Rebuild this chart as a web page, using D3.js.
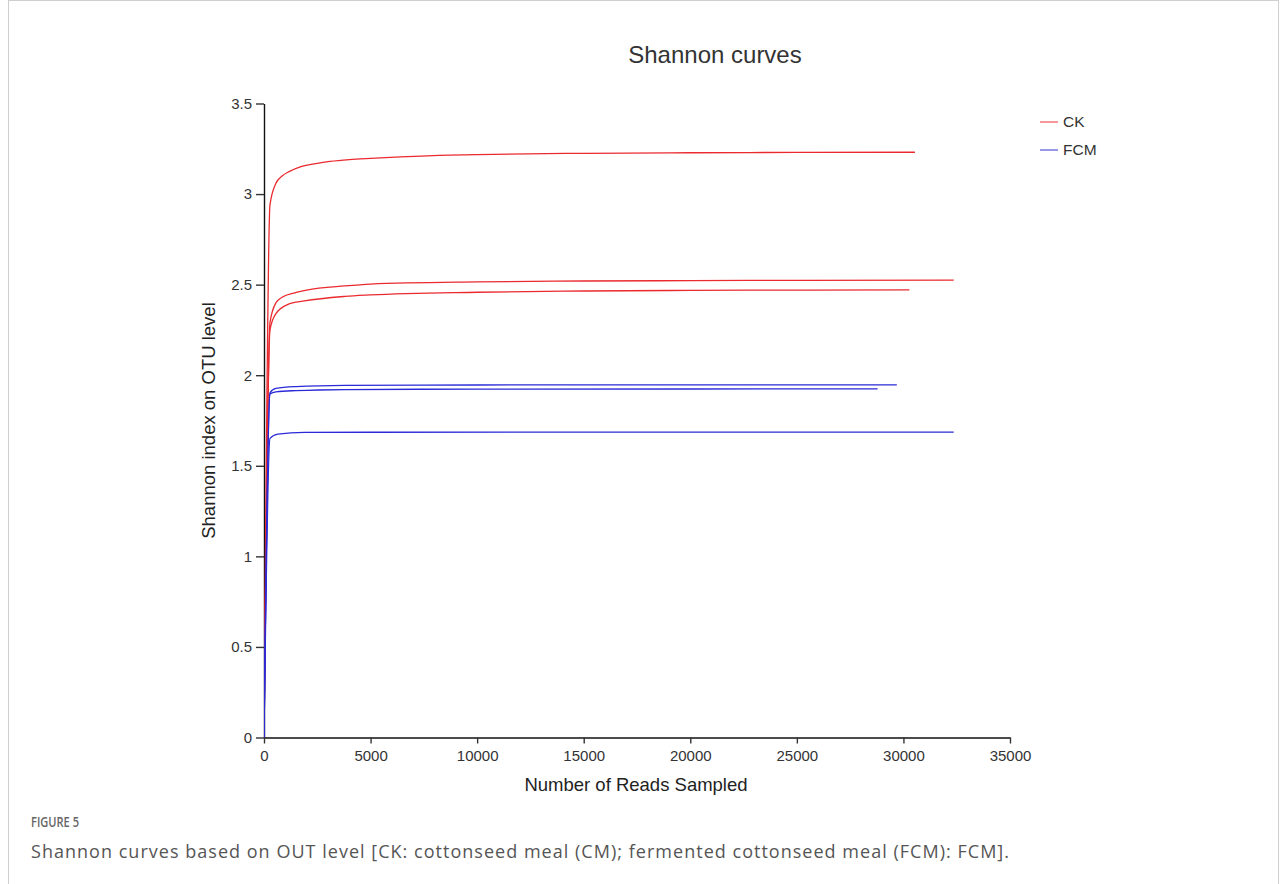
<!DOCTYPE html>
<html>
<head>
<meta charset="utf-8">
<script src="https://cdn.jsdelivr.net/npm/d3@7"></script>
<style>
  html, body { margin: 0; padding: 0; background: #fff; }
  svg { display: block; }
</style>
</head>
<body>
<svg id="chart" width="1281" height="884"></svg>
<script>
// Rarefaction samples: reads sampled and Shannon index per sample
const ckReads1 = [1, 280, 560, 850, 1200, 1700, 2500, 3100, 4000, 5000, 6400, 8700, 10000, 15000, 20000, 25000, 30540];
const ckShannon1 = [0, 2.94, 3.06, 3.10, 3.125, 3.15, 3.17, 3.18, 3.19, 3.197, 3.205, 3.215, 3.218, 3.225, 3.228, 3.23, 3.231];

const ckReads2 = [1, 280, 560, 850, 1450, 2000, 3800, 5000, 10000, 15000, 20000, 25000, 32360];
const ckShannon2 = [0, 2.29, 2.40, 2.43, 2.455, 2.47, 2.493, 2.503, 2.515, 2.52, 2.522, 2.524, 2.525];

const ckReads3 = [1, 280, 560, 1100, 1900, 3800, 5000, 10000, 15000, 20000, 25000, 30280];
const ckShannon3 = [0, 2.25, 2.34, 2.39, 2.41, 2.435, 2.443, 2.458, 2.465, 2.468, 2.47, 2.471];

const fcmReads1 = [1, 280, 560, 1500, 3800, 10000, 20000, 29690];
const fcmShannon1 = [0, 1.903, 1.927, 1.937, 1.944, 1.946, 1.947, 1.947];

const fcmReads2 = [1, 280, 560, 1500, 3800, 10000, 20000, 28790];
const fcmShannon2 = [0, 1.896, 1.908, 1.915, 1.921, 1.923, 1.924, 1.925];

const fcmReads3 = [1, 280, 650, 1900, 5000, 15000, 32360];
const fcmShannon3 = [0, 1.651, 1.675, 1.684, 1.685, 1.686, 1.686];

const groups = ["CK", "FCM"];
const groupColors = ["#ea2a2f", "#2a2ad8"];
const xTicks = [0, 5000, 10000, 15000, 20000, 25000, 30000, 35000];
const yTicks = [0, 0.5, 1, 1.5, 2, 2.5, 3, 3.5];

const curves = [
  { group: "CK", reads: ckReads1, values: ckShannon1 },
  { group: "CK", reads: ckReads2, values: ckShannon2 },
  { group: "CK", reads: ckReads3, values: ckShannon3 },
  { group: "FCM", reads: fcmReads1, values: fcmShannon1 },
  { group: "FCM", reads: fcmReads2, values: fcmShannon2 },
  { group: "FCM", reads: fcmReads3, values: fcmShannon3 }
];

const svg = d3.select("#chart");
const font = "'Liberation Sans', Arial, sans-serif";

// Page frame
svg.append("rect")
  .attr("x", 8.5).attr("y", 0.5)
  .attr("width", 1270).attr("height", 950)
  .attr("fill", "none").attr("stroke", "#cfcfcf").attr("stroke-width", 1);

const plot = { left: 264, right: 1010, top: 103.5, bottom: 737.5 };

const x = d3.scaleLinear().domain([0, 35000]).range([plot.left, plot.right]);
const y = d3.scaleLinear().domain([0, 3.5]).range([plot.bottom, plot.top]);
const color = d3.scaleOrdinal().domain(groups).range(groupColors);

// Title
svg.append("text")
  .attr("x", 715).attr("y", 63)
  .attr("text-anchor", "middle")
  .attr("font-family", font).attr("font-size", 24)
  .attr("fill", "#333")
  .text("Shannon curves");

// Axes
const xAxis = svg.append("g")
  .attr("transform", `translate(0,${plot.bottom})`)
  .call(d3.axisBottom(x).tickValues(xTicks).tickFormat(d3.format("d")).tickSize(6).tickSizeOuter(0));
const yAxis = svg.append("g")
  .attr("transform", `translate(${plot.left},0)`)
  .call(d3.axisLeft(y).tickValues(yTicks).tickFormat(d => String(d)).tickSize(8).tickSizeOuter(0));

[xAxis, yAxis].forEach(g => {
  g.select(".domain").attr("stroke", "#111").attr("stroke-width", 1.4);
  g.selectAll(".tick line").attr("stroke", "#333").attr("stroke-width", 1.4);
  g.selectAll(".tick text")
    .attr("font-family", font).attr("font-size", 15).attr("fill", "#333");
});
xAxis.selectAll(".tick text").attr("dy", "0.95em");
yAxis.selectAll(".tick text").attr("x", -12);

// Axis titles
svg.append("text")
  .attr("x", 636).attr("y", 791)
  .attr("text-anchor", "middle")
  .attr("font-family", font).attr("font-size", 18.5).attr("fill", "#222")
  .text("Number of Reads Sampled");

svg.append("text")
  .attr("transform", `translate(215,${(plot.top + plot.bottom) / 2 + 0}) rotate(-90)`)
  .attr("text-anchor", "middle")
  .attr("font-family", font).attr("font-size", 18.5).attr("fill", "#222")
  .text("Shannon index on OTU level");

// Curves
const line = d3.line()
  .curve(d3.curveMonotoneX)
  .x(d => x(d[0]))
  .y(d => y(d[1]));

const clip = svg.append("defs").append("clipPath").attr("id", "plotClip");
clip.append("rect").attr("x", plot.left).attr("y", plot.top - 5)
  .attr("width", plot.right - plot.left + 5).attr("height", plot.bottom - plot.top + 5);

svg.append("g").attr("clip-path", "url(#plotClip)")
  .selectAll("path")
  .data(curves)
  .join("path")
  .attr("d", c => line(c.reads.map((r, i) => [r, c.values[i]])))
  .attr("fill", "none")
  .attr("stroke", c => color(c.group))
  .attr("stroke-width", 1.3)
  .attr("stroke-linejoin", "round");

// Legend
const legend = svg.append("g").attr("transform", "translate(1040,122)");
const item = legend.selectAll("g")
  .data(groups)
  .join("g")
  .attr("transform", (d, i) => `translate(0,${i * 28})`);
item.append("line")
  .attr("x1", 0).attr("x2", 18).attr("y1", 0).attr("y2", 0)
  .attr("stroke", d => color(d)).attr("stroke-width", 1.2).attr("opacity", 0.8);
item.append("text")
  .attr("x", 23).attr("y", 0).attr("dy", "0.35em")
  .attr("font-family", font).attr("font-size", 15.5).attr("fill", "#333")
  .text(d => d);

// Figure caption
svg.append("text")
  .attr("x", 31).attr("y", 827)
  .attr("font-family", "'Open Sans', sans-serif").attr("font-size", 13.5)
  .attr("font-weight", 600).attr("fill", "#666")
  .attr("textLength", 48).attr("lengthAdjust", "spacingAndGlyphs")
  .text("FIGURE 5");

svg.append("text")
  .attr("x", 31).attr("y", 858)
  .attr("font-family", "'Open Sans', sans-serif").attr("font-size", 18)
  .attr("fill", "#555")
  .attr("textLength", 978).attr("lengthAdjust", "spacing")
  .text("Shannon curves based on OUT level [CK: cottonseed meal (CM); fermented cottonseed meal (FCM): FCM].");
</script>
</body>
</html>
